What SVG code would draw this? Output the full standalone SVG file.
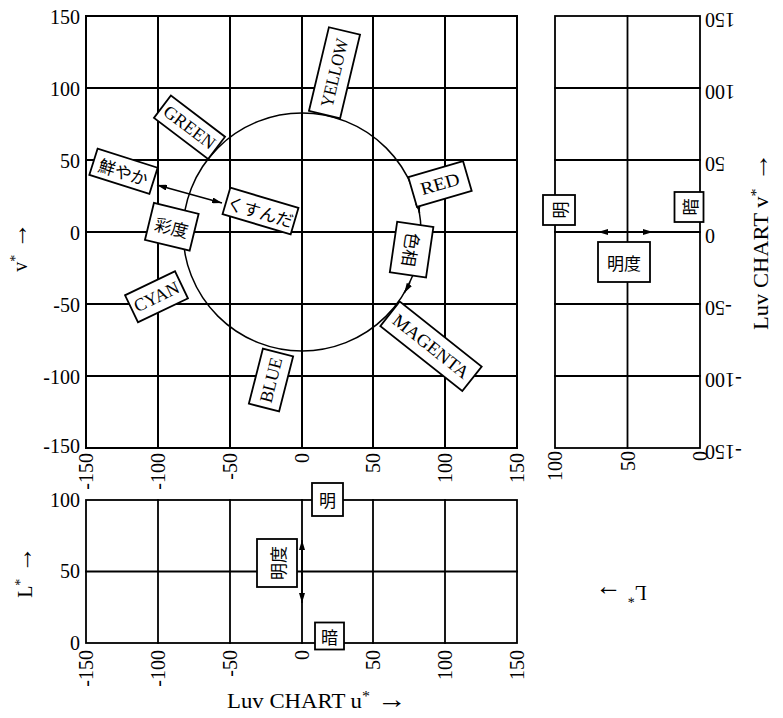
<svg xmlns="http://www.w3.org/2000/svg" width="783" height="718" viewBox="0 0 783 718">
<style>
.grid{stroke:#000;stroke-width:2;fill:none;stroke-linecap:square}
.grid2{stroke:#000;stroke-width:1.8;fill:none;stroke-linecap:square}
.hue{stroke:#000;stroke-width:1.5;fill:none}
.con{stroke:#000;stroke-width:1.6;fill:none}
.box{fill:#fff;stroke:#000;stroke-width:1.8}
.tk{font-family:"Liberation Serif",serif;font-size:20px;fill:#000}
.ttl{font-family:"Liberation Serif",serif;font-size:20px;fill:#000}
.arr{font-size:26px}
.lb{font-family:"Liberation Serif",serif;font-size:18px;fill:#000;text-anchor:middle;dominant-baseline:central}
.jp{font-family:"Noto Sans CJK JP",sans-serif;font-size:17px;fill:#000;text-anchor:middle;dominant-baseline:central}
</style>
<defs>
<marker id="ah" viewBox="0 0 10 6" refX="10" refY="3" markerWidth="10" markerHeight="6" markerUnits="userSpaceOnUse" orient="auto-start-reverse"><path d="M0,0 L10,3 L0,6 z" fill="#000"/></marker>
</defs>
<rect width="783" height="718" fill="#fff"/>

<!-- main u*v* chart grid -->
<g id="main-grid" class="grid">
<rect x="86" y="16" width="431" height="432"/>
<path d="M158,16V448M230,16V448M302,16V448M373,16V448M445,16V448"/>
<path d="M86,88H517M86,160H517M86,232H517M86,304H517M86,376H517"/>
</g>
<g id="main-yticks" class="tk" text-anchor="end">
<text x="80" y="24">150</text>
<text x="80" y="96">100</text>
<text x="80" y="168">50</text>
<text x="80" y="240">0</text>
<text x="80" y="312">-50</text>
<text x="80" y="384">-100</text>
<text x="80" y="453">-150</text>
</g>
<g id="main-xticks" class="tk" text-anchor="end">
<text transform="translate(93,453) rotate(-90)">-150</text>
<text transform="translate(165,453) rotate(-90)">-100</text>
<text transform="translate(237,453) rotate(-90)">-50</text>
<text transform="translate(309,453) rotate(-90)">0</text>
<text transform="translate(380,453) rotate(-90)">50</text>
<text transform="translate(452,453) rotate(-90)">100</text>
<text transform="translate(524,453) rotate(-90)">150</text>
</g>
<text id="v-axis-title" class="ttl" text-anchor="middle" transform="translate(27,247) rotate(-90)">v<tspan dy="-7" font-size="14">*</tspan><tspan dy="7" class="arr"> →</tspan></text>

<!-- bottom u*L* chart -->
<g id="bottom-grid" class="grid2">
<rect x="86" y="500" width="431" height="143"/>
<path d="M158,500V643M230,500V643M302,500V643M373,500V643M445,500V643"/>
<path d="M86,571.5H517"/>
</g>
<g id="bottom-yticks" class="tk" text-anchor="end">
<text x="80" y="507">100</text>
<text x="80" y="578">50</text>
<text x="80" y="650">0</text>
</g>
<g id="bottom-xticks" class="tk" text-anchor="end">
<text transform="translate(93,650) rotate(-90)">-150</text>
<text transform="translate(165,650) rotate(-90)">-100</text>
<text transform="translate(237,650) rotate(-90)">-50</text>
<text transform="translate(309,650) rotate(-90)">0</text>
<text transform="translate(380,650) rotate(-90)">50</text>
<text transform="translate(452,650) rotate(-90)">100</text>
<text transform="translate(524,650) rotate(-90)">150</text>
</g>
<text id="L-axis-title" class="ttl" text-anchor="middle" transform="translate(32,572) rotate(-90)">L<tspan dy="-7" font-size="14">*</tspan><tspan dy="7" class="arr"> →</tspan></text>
<text id="u-axis-title" class="ttl" x="227" y="708" textLength="180" lengthAdjust="spacingAndGlyphs">Luv CHART u<tspan dy="-7" font-size="14">*</tspan><tspan dy="7" class="arr"> →</tspan></text>

<!-- right L*v* chart -->
<g id="right-grid" class="grid2">
<rect x="555" y="16" width="145" height="432"/>
<path d="M627.5,16V448"/>
<path d="M555,88H700M555,160H700M555,232H700M555,304H700M555,376H700"/>
</g>
<g id="right-vticks" class="tk" text-anchor="end">
<text transform="translate(705,12.5) rotate(180)">150</text>
<text transform="translate(705,84.5) rotate(180)">100</text>
<text transform="translate(705,156.5) rotate(180)">50</text>
<text transform="translate(705,228.5) rotate(180)">0</text>
<text transform="translate(705,300.5) rotate(180)">-50</text>
<text transform="translate(705,372.5) rotate(180)">-100</text>
<text transform="translate(705,444.5) rotate(180)">-150</text>
</g>
<g id="right-Lticks" class="tk" text-anchor="end">
<text transform="translate(562,451) rotate(-90)">100</text>
<text transform="translate(634.5,451) rotate(-90)">50</text>
<text transform="translate(707,451) rotate(-90)">0</text>
</g>
<text id="v-axis-title-right" class="ttl" text-anchor="middle" transform="translate(768,241) rotate(-90)" textLength="178" lengthAdjust="spacingAndGlyphs">Luv CHART v<tspan dy="-7" font-size="14">*</tspan><tspan dy="7" class="arr"> →</tspan></text>
<text id="L-axis-title-right" class="ttl" text-anchor="middle" transform="translate(621,586) rotate(180)">L<tspan dy="-7" font-size="14">*</tspan><tspan dy="7" class="arr"> →</tspan></text>

<!-- hue circle -->
<circle id="hue-circle" class="hue" cx="302" cy="232" r="119"/>

<!-- connectors -->
<g id="connectors" class="con">
<path id="saturation-arrow" d="M157,185 L222,203" marker-start="url(#ah)" marker-end="url(#ah)"/>
<path id="hue-arrow-1" d="M416.9,201.2 A119,119 0 0 1 419.5,213" marker-end="url(#ah)"/>
<path id="hue-arrow-2" d="M409.9,282.3 A119,119 0 0 1 404.2,293" marker-end="url(#ah)"/>
<path id="lightness-up" d="M302,571.5 V540" marker-end="url(#ah)"/>
<path id="lightness-down" d="M302,571.5 V603" marker-end="url(#ah)"/>
<path id="lightness-left" d="M627.5,232 H598" marker-end="url(#ah)"/>
<path id="lightness-right" d="M627.5,232 H653" marker-end="url(#ah)"/>
</g>

<!-- label nodes -->
<g id="yellow" transform="translate(334.5,72.8) rotate(-76.6)"><rect class="box" x="-43" y="-16" width="86" height="32"/><text class="lb" textLength="70" lengthAdjust="spacingAndGlyphs">YELLOW</text></g>
<g id="green" transform="translate(189.5,127.3) rotate(37.2)"><rect class="box" x="-34" y="-14" width="68" height="28"/><text class="lb" textLength="60" lengthAdjust="spacingAndGlyphs">GREEN</text></g>
<g id="red" transform="translate(440,184) rotate(-16.2)"><rect class="box" x="-28.5" y="-15.5" width="57" height="31"/><text class="lb" textLength="40" lengthAdjust="spacingAndGlyphs">RED</text></g>
<g id="magenta" transform="translate(431,346.3) rotate(38.4)"><rect class="box" x="-52.3" y="-15.6" width="104.6" height="31.2"/><text class="lb" textLength="92" lengthAdjust="spacingAndGlyphs">MAGENTA</text></g>
<g id="cyan" transform="translate(156.5,296.8) rotate(-25.6)"><rect class="box" x="-27.7" y="-15" width="55.4" height="30"/><text class="lb" textLength="48" lengthAdjust="spacingAndGlyphs">CYAN</text></g>
<g id="blue" transform="translate(271,380) rotate(-75.7)"><rect class="box" x="-28.4" y="-15.6" width="56.8" height="31.2"/><text class="lb" textLength="46" lengthAdjust="spacingAndGlyphs">BLUE</text></g>
<g id="azayaka" transform="translate(123.5,171.3) rotate(17.6)"><rect class="box" x="-31.5" y="-13.7" width="63" height="27.4"/><text class="jp" font-size="16">鮮やか</text></g>
<g id="kusunda" transform="translate(260.5,211) rotate(16.4)"><rect class="box" x="-35.5" y="-13.8" width="71" height="27.6"/><text class="jp" font-size="15">くすんだ</text></g>
<g id="saido" transform="translate(171.8,226.8) rotate(13.7)"><rect class="box" x="-23" y="-19" width="46" height="38"/><text class="jp" font-size="17">彩度</text></g>
<g id="shikisou" transform="translate(411.6,249.6) rotate(98.3)"><rect class="box" x="-25.5" y="-18.3" width="51" height="36.6"/><text class="jp" font-size="17">色相</text></g>

<g id="meido-bottom" transform="translate(277,563)"><rect class="box" x="-20" y="-24" width="40" height="48"/><text class="jp" transform="rotate(-90)">明度</text></g>
<g id="mei-bottom" transform="translate(327.5,499.5)"><rect class="box" x="-15.5" y="-16.5" width="31" height="33"/><text class="jp">明</text></g>
<g id="an-bottom" transform="translate(329.5,636)"><rect class="box" x="-14.5" y="-13.5" width="29" height="27"/><text class="jp">暗</text></g>

<g id="mei-right" transform="translate(559,210)"><rect class="box" x="-16" y="-15" width="32" height="30"/><text class="jp" transform="rotate(-90)">明</text></g>
<g id="an-right" transform="translate(689,207)"><rect class="box" x="-14.5" y="-15" width="29" height="30"/><text class="jp" transform="rotate(-90)">暗</text></g>
<g id="meido-right" transform="translate(624,262)"><rect class="box" x="-26" y="-20" width="52" height="40"/><text class="jp">明度</text></g>
</svg>
